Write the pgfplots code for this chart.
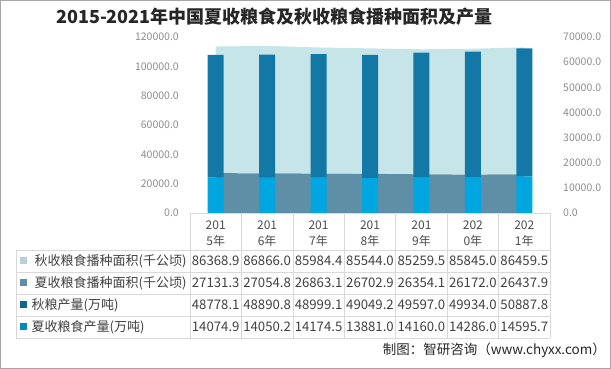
\documentclass[border=0pt]{standalone}
\usepackage{fontspec}
\setmainfont{Noto Sans CJK SC}
\usepackage{pgfplots}
\pgfplotsset{compat=1.18}
\definecolor{cLight}{HTML}{C6E5E8}
\definecolor{cGrey}{HTML}{5F8FA6}
\definecolor{cDark}{HTML}{1378A6}
\definecolor{cCyan}{HTML}{00A6DF}
\definecolor{cLine}{HTML}{D9D9D9}
\definecolor{cTick}{HTML}{8C8C8C}
\definecolor{cText}{HTML}{404040}
\begin{document}
\begin{tikzpicture}[x=1pt,y=1pt]
\draw[black!35, line width=0.8pt] (0.4,0.4) rectangle (610.6,368.6);
\node[anchor=west, inner sep=0, font=\fontsize{18}{20}\selectfont\bfseries, text=black!85] at (56,352.5) {2015-2021年中国夏收粮食及秋收粮食播种面积及产量};
\begin{axis}[at={(190pt,156pt)}, anchor=south west, scale only axis,
  width=360pt, height=176pt, xmin=-0.5, xmax=6.5, ymin=0, ymax=120000,
  axis x line=none, axis y line*=left, y axis line style={draw=none},
  major tick length=0pt, ytick={0,20000,...,120000}, scaled y ticks=false,
  yticklabel style={font=\fontsize{10.5}{12}\selectfont, text=cTick, anchor=east, inner sep=0pt, xshift=-11pt},
  /pgf/number format/.cd, fixed, fixed zerofill, precision=1, 1000 sep={}, assume math mode=true,
  /pgfplots/.cd, stack plots=y, clip=false]
\addplot[fill=cGrey, draw=none] coordinates {(0,27131.3) (1,27054.8) (2,26863.1) (3,26702.9) (4,26354.1) (5,26172.0) (6,26437.9)} \closedcycle;
\addplot[fill=cLight, draw=none] coordinates {(0,86368.9) (1,86866.0) (2,85984.4) (3,85544.0) (4,85259.5) (5,85845.0) (6,86459.5)} \closedcycle;
\end{axis}
\begin{axis}[at={(190pt,156pt)}, anchor=south west, scale only axis,
  width=360pt, height=176pt, xmin=-0.5, xmax=6.5, ymin=0, ymax=70000,
  axis x line=none, axis y line*=right, y axis line style={draw=none},
  major tick length=0pt, ytick={0,10000,...,70000}, scaled y ticks=false,
  yticklabel style={font=\fontsize{10.5}{12}\selectfont, text=cTick, anchor=west, inner sep=0pt, xshift=13pt},
  /pgf/number format/.cd, fixed, fixed zerofill, precision=1, 1000 sep={}, assume math mode=true,
  /pgfplots/.cd, ybar stacked, bar width=16pt]
\addplot[fill=cCyan, draw=none] coordinates {(0,14074.9) (1,14050.2) (2,14174.5) (3,13881.0) (4,14160.0) (5,14286.0) (6,14595.7)};
\addplot[fill=cDark, draw=none] coordinates {(0,48778.1) (1,48890.8) (2,48999.1) (3,49049.2) (4,49597.0) (5,49934.0) (6,50887.8)};
\end{axis}
% data table
\foreach \yy in {119,97,75,53,31} \draw[cLine, line width=0.7pt] (16,\yy) -- (550,\yy);
\draw[cLine, line width=0.7pt] (190,156) -- (550,156);
\draw[cLine, line width=0.7pt] (16,119) -- (16,31);
\foreach \i in {0,...,7} \draw[cLine, line width=0.7pt] ({190+51.4286*\i},156) -- ({190+51.4286*\i},31);
\foreach \i/\ya/\yb/\a/\b/\c/\d in {
 0/201/5/86368.9/27131.3/48778.1/14074.9,
 1/201/6/86866.0/27054.8/48890.8/14050.2,
 2/201/7/85984.4/26863.1/48999.1/14174.5,
 3/201/8/85544.0/26702.9/49049.2/13881.0,
 4/201/9/85259.5/26354.1/49597.0/14160.0,
 5/202/0/85845.0/26172.0/49934.0/14286.0,
 6/202/1/86459.5/26437.9/50887.8/14595.7}{
 \pgfmathsetmacro{\xc}{215.71+51.4286*\i}
 \node[font=\fontsize{12}{13}\selectfont, text=black!70, inner sep=0] at (\xc,144) {\ya};
 \node[font=\fontsize{12}{13}\selectfont, text=black!70, inner sep=0] at (\xc,128.5) {\yb{}年};
 \node[font=\fontsize{13.2}{14}\selectfont, text=cText, inner sep=0] at (\xc,108) {\a};
 \node[font=\fontsize{13.2}{14}\selectfont, text=cText, inner sep=0] at (\xc,86) {\b};
 \node[font=\fontsize{13.2}{14}\selectfont, text=cText, inner sep=0] at (\xc,64) {\c};
 \node[font=\fontsize{13.2}{14}\selectfont, text=cText, inner sep=0] at (\xc,42) {\d};
}
\fill[cLight!80!gray] (20,104.5) rectangle (27,111.5);
\fill[cGrey] (20,82.5) rectangle (27,89.5);
\fill[cDark!85!black] (20,60.5) rectangle (27,67.5);
\fill[cCyan!85!black] (20,38.5) rectangle (27,45.5);
\node[anchor=west, inner sep=0, font=\fontsize{13}{14}\selectfont, text=cText] at (34.5,108) {秋收粮食播种面积(千公顷)};
\node[anchor=west, inner sep=0, font=\fontsize{13}{14}\selectfont, text=cText] at (34.5,86) {夏收粮食播种面积(千公顷)};
\node[anchor=west, inner sep=0, font=\fontsize{13}{14}\selectfont, text=cText] at (31.5,64) {秋粮产量(万吨)};
\node[anchor=west, inner sep=0, font=\fontsize{13}{14}\selectfont, text=cText] at (31.5,42) {夏收粮食产量(万吨)};
\node[anchor=east, inner sep=0, font=\fontsize{13.5}{15}\selectfont, text=black!85] at (606,19) {制图：智研咨询（www.chyxx.com）};
\end{tikzpicture}
\end{document}
